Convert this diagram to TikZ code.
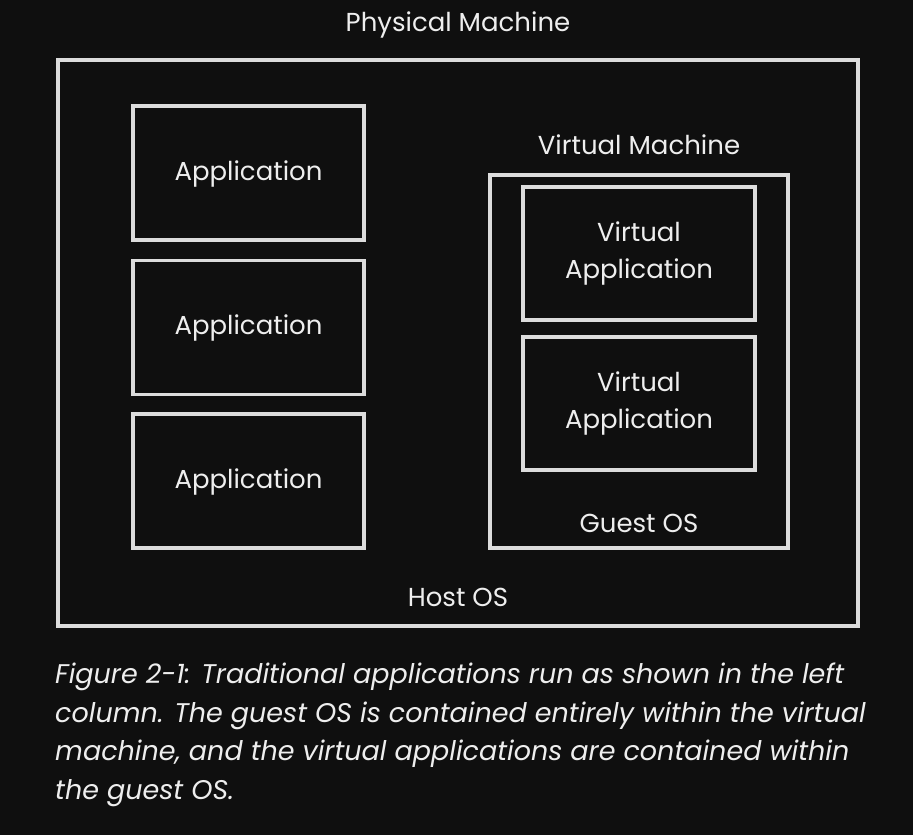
\documentclass[tikz,border=0pt]{standalone}
\usepackage{fontspec}
\setmainfont{Poppins}
\definecolor{bgdark}{HTML}{0F0F0F}
\definecolor{boxline}{HTML}{DCDCDC}
\definecolor{txt}{HTML}{EEEEEE}
\tikzset{frame/.style={draw=boxline,line width=3.5pt,inner sep=0pt},
appbox/.style={frame,minimum width=231pt,minimum height=134pt,align=center},
vappbox/.style={frame,minimum width=232pt,minimum height=133pt,align=center},
label/.style={text=txt,inner sep=0pt,font=\fontsize{26}{37}\selectfont}}

\begin{document}
\begin{tikzpicture}[x=1pt,y=-1pt]
\fill[bgdark] (0,0) rectangle (913,835);
\useasboundingbox (0,0) rectangle (913,835);
\node[frame,minimum width=800pt,minimum height=566pt] (pm) at (458,343) {};
\node[label] (pmlabel) at (458,25) {Physical Machine};
\node[label] (host) at (458,597) {Host OS};

\node[appbox,label] (a1) at (248.5,173) {\strut Application};
\node[appbox,label] (a2) at (248.5,327.5) {\strut Application};
\node[appbox,label] (a3) at (248.5,481) {\strut Application};

\node[frame,minimum width=298pt,minimum height=373pt] (vm) at (639,361.5) {};
\node[label] (vmlabel) at (639,145) {Virtual Machine};
\node[vappbox,label] (v1) at (639,253.5) {Virtual\\Application};
\node[vappbox,label] (v2) at (639,403.5) {Virtual\\Application};
\node[label] (guest) at (639,523) {Guest OS};

\node[label,anchor=north west,align=left,font=\fontsize{27}{38.5}\selectfont\itshape] (caption) at (55,663) {Figure 2-1: Traditional applications run as shown in the left\\column. The guest OS is contained entirely within the virtual\\machine, and the virtual applications are contained within\\the guest OS.};
\end{tikzpicture}
\end{document}
